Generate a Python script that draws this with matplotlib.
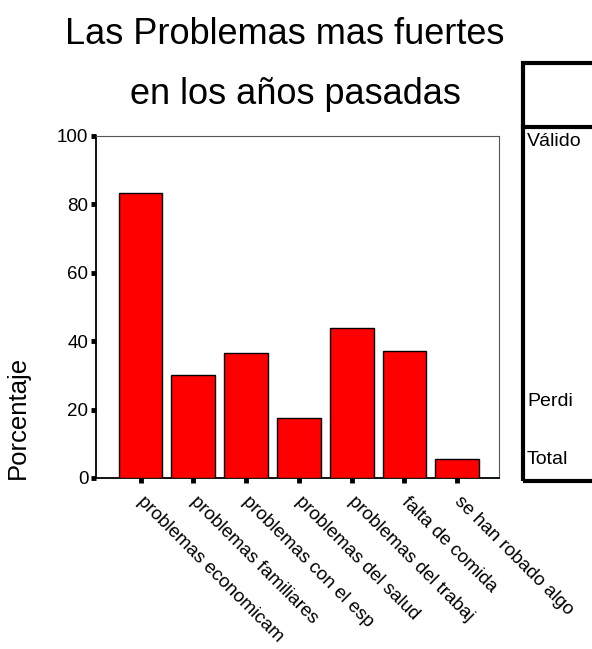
import matplotlib
matplotlib.use('Agg')
import numpy as np
from matplotlib import pyplot as plt
from matplotlib.patches import Rectangle
from matplotlib.lines import Line2D

plt.rcParams['font.family'] = ['Liberation Sans', 'DejaVu Sans']

categorias = ['problemas economicam', 'problemas familiares', 'problemas con el esp',
              'problemas del salud', 'problemas del trabaj', 'falta de comida',
              'se han robado algo']
porcentaje = [83.2, 30.1, 36.5, 17.6, 43.8, 37.1, 5.6]
yticks = [0, 20, 40, 60, 80, 100]
filas_tabla = ['Válido', 'Perdi', 'Total']   # tabla cortada en el borde derecho

W, H = 592, 649
fig = plt.figure(figsize=(W / 100, H / 100), dpi=100)

def fx(px):
    return px / W

def fy(py):
    return 1 - py / H

ax = fig.add_axes([fx(96), fy(478), fx(499) - fx(96), fy(136) - fy(478)])
x = np.arange(len(categorias))
ax.bar(x, porcentaje, width=0.83, color='#ff0000', edgecolor='black', linewidth=1.0, zorder=3)
ax.set_xlim(-0.843, 6.79)
ax.set_ylim(0, 100)
ax.set_yticks(yticks)
ax.set_yticklabels([str(v) for v in yticks], fontsize=13.5)
ax.set_xticks(x)
ax.set_xticklabels([])
ax.tick_params(axis='both', direction='out', length=3.5, width=3.5, color='black', pad=2)

for s in ['top', 'right']:
    ax.spines[s].set_color('#555555')
    ax.spines[s].set_linewidth(0.8)
ax.spines['left'].set_linewidth(1.3)
ax.spines['bottom'].set_linewidth(1.3)

for xi, lab in zip(x, categorias):
    ax.text(xi + 0.1, -4.5, lab, rotation=-45, rotation_mode='anchor',
            ha='left', va='top', fontsize=13.5)

fig.text(fx(18), fy(417), 'Porcentaje', rotation=90, ha='center', va='center', fontsize=18.5)
fig.text(fx(285), fy(35), 'Las Problemas mas fuertes', ha='center', va='center', fontsize=26)
fig.text(fx(295), fy(95), 'en los años pasadas', ha='center', va='center', fontsize=26)

# tabla recortada a la derecha
fig.patches.append(Rectangle((fx(523), fy(481)), fx(700) - fx(523), fy(63) - fy(481),
                             transform=fig.transFigure, fill=False, edgecolor='black',
                             linewidth=3, figure=fig))
fig.lines.append(Line2D([fx(523), fx(700)], [fy(127), fy(127)], transform=fig.transFigure,
                        color='black', linewidth=3, figure=fig))
for lab, py in zip(filas_tabla, [142, 402, 460]):
    fig.text(fx(527), fy(py), lab, ha='left', va='center', fontsize=14)

fig.savefig('out.png', dpi=100)
